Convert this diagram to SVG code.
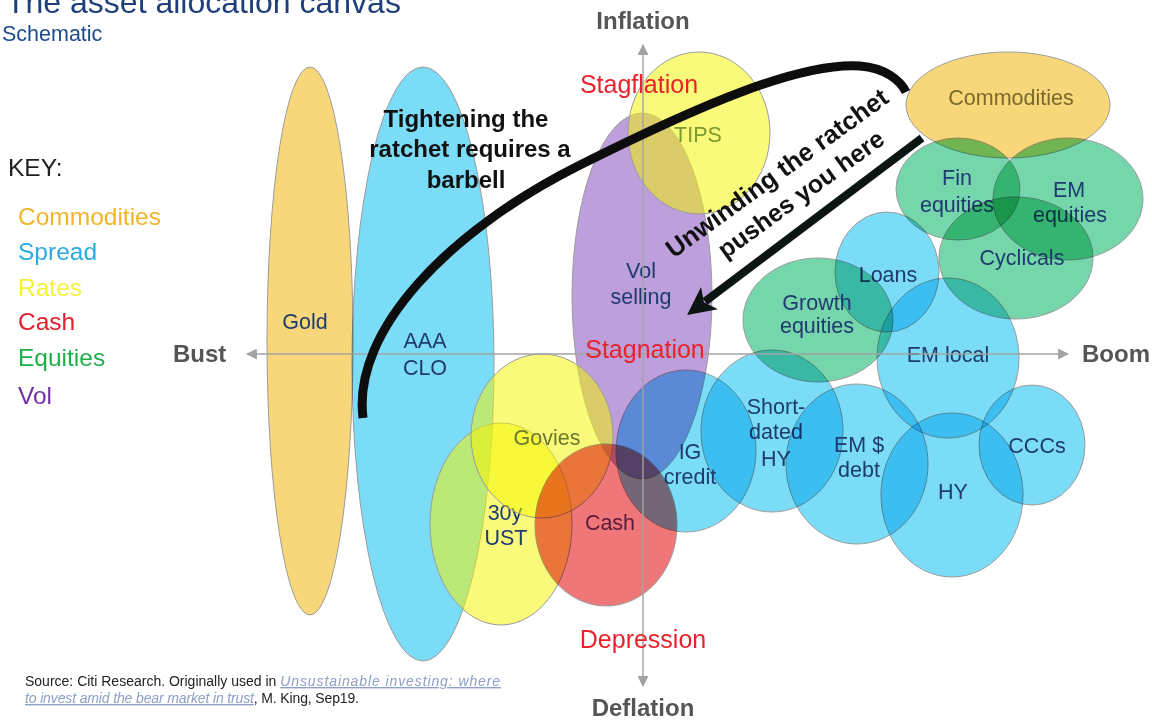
<svg xmlns="http://www.w3.org/2000/svg" width="1152" height="722" viewBox="0 0 1152 722">
<style>
text{font-family:"Liberation Sans",Arial,sans-serif}
.sh{mix-blend-mode:multiply;stroke:#9b9b9b;stroke-width:1}
.shy{fill:#f5f500;fill-opacity:0.52;stroke:#9b9b9b;stroke-width:1}
.gold{fill:#f8d77b}
.blue{fill:#7bdcf8}
.red{fill:#ef777a}
.pur{fill:#bc9fdb}
.grn{fill:#74d6aa}
.lb{font-size:21.5px;fill:#1f3a6e;text-anchor:middle}
.ax{font-size:24px;font-weight:bold;fill:#555}
.reg{font-size:25px;fill:#e8232b;text-anchor:middle}
.key{font-size:24.5px}
.ann{font-size:24px;font-weight:bold;fill:#111;text-anchor:middle}
.axis{stroke:#a3a3a3;stroke-width:1.4;fill:none}
.src{font-size:14px;fill:#222}
.lnk{font-style:italic;fill:#8ea0c6;text-decoration:underline}
</style>
<defs>
<marker id="axh" viewBox="0 0 10 10" refX="9" refY="5" markerWidth="11" markerHeight="11" markerUnits="userSpaceOnUse" orient="auto">
<path d="M0,0 L10,5 L0,10 z" fill="#a3a3a3"/>
</marker>
<marker id="bigh" viewBox="0 0 10 10" refX="2" refY="5" markerWidth="28" markerHeight="28" markerUnits="userSpaceOnUse" orient="auto">
<path d="M0,0 L10,5 L0,10 L2.5,5 z" fill="#0d1414"/>
</marker>
</defs>

<!-- title & key -->
<text x="6" y="13" font-size="32" fill="#1e3f7a">The asset allocation canvas</text>
<text x="2" y="41" font-size="21.5" fill="#1e4a8a">Schematic</text>
<g id="key" class="key">
<text x="8" y="176" fill="#222">KEY:</text>
<text x="18" y="225" fill="#f0b429">Commodities</text>
<text x="18" y="260" fill="#29abe2">Spread</text>
<text x="18" y="296" fill="#f2f23a">Rates</text>
<text x="18" y="330" fill="#e0202a">Cash</text>
<text x="18" y="366" fill="#1fb04a">Equities</text>
<text x="18" y="404" fill="#7030a0">Vol</text>
</g>

<!-- nodes -->
<g id="gold"><ellipse class="sh gold" cx="310" cy="341" rx="43" ry="274"/><text class="lb" x="305" y="329">Gold</text></g>
<g id="aaa-clo"><ellipse class="sh blue" cx="423" cy="364" rx="71" ry="297"/><text class="lb" x="425" y="348">AAA</text><text class="lb" x="425" y="375">CLO</text></g>
<g id="vol-selling"><ellipse class="sh pur" cx="642" cy="296" rx="70" ry="183"/><text class="lb" x="641" y="278">Vol</text><text class="lb" x="641" y="304">selling</text></g>
<g id="tips"><ellipse class="shy" cx="699" cy="133" rx="71" ry="81"/><text class="lb" x="698" y="142" style="fill:#7a9a30">TIPS</text></g>
<g id="commodities"><ellipse class="sh gold" cx="1008" cy="105" rx="102" ry="53"/><text class="lb" x="1011" y="105" style="fill:#7a6a2a">Commodities</text></g>
<g id="fin-equities"><ellipse class="sh grn" cx="958" cy="189" rx="62" ry="51"/><text class="lb" x="957" y="185">Fin</text><text class="lb" x="957" y="212">equities</text></g>
<g id="em-equities"><ellipse class="sh grn" cx="1068" cy="199" rx="75" ry="61"/><text class="lb" x="1069" y="197">EM</text><text class="lb" x="1070" y="222">equities</text></g>
<g id="cyclicals"><ellipse class="sh grn" cx="1016" cy="258" rx="77" ry="61"/><text class="lb" x="1022" y="265">Cyclicals</text></g>
<g id="loans"><ellipse class="sh blue" cx="887" cy="272" rx="52" ry="60"/><text class="lb" x="888" y="282">Loans</text></g>
<g id="growth-equities"><ellipse class="sh grn" cx="818" cy="320" rx="75" ry="62"/><text class="lb" x="817" y="310">Growth</text><text class="lb" x="817" y="333">equities</text></g>
<g id="em-local"><ellipse class="sh blue" cx="948" cy="358" rx="71" ry="80"/><text class="lb" x="948" y="362">EM local</text></g>
<g id="short-dated-hy"><ellipse class="sh blue" cx="772" cy="431" rx="71" ry="81"/><text class="lb" x="776" y="414">Short-</text><text class="lb" x="776" y="439">dated</text><text class="lb" x="776" y="466">HY</text></g>
<g id="ig-credit"><ellipse class="sh blue" cx="686" cy="451" rx="70" ry="81"/><text class="lb" x="690" y="459">IG</text><text class="lb" x="690" y="484">credit</text></g>
<g id="em-debt"><ellipse class="sh blue" cx="857" cy="464" rx="71" ry="80"/><text class="lb" x="859" y="452">EM $</text><text class="lb" x="859" y="477">debt</text></g>
<g id="hy"><ellipse class="sh blue" cx="952" cy="495" rx="71" ry="82"/><text class="lb" x="953" y="499">HY</text></g>
<g id="cccs"><ellipse class="sh blue" cx="1032" cy="445" rx="53" ry="60"/><text class="lb" x="1037" y="453">CCCs</text></g>
<g id="ust-30y"><ellipse class="shy" cx="501" cy="524" rx="71" ry="101"/><text class="lb" x="505" y="520">30y</text><text class="lb" x="506" y="545">UST</text></g>
<g id="govies"><ellipse class="shy" cx="542" cy="436" rx="71" ry="82"/><text class="lb" x="547" y="445" style="fill:#6a7a2a">Govies</text></g>
<g id="cash"><ellipse class="sh red" cx="606" cy="525" rx="71" ry="81"/><text class="lb" x="610" y="530" style="fill:#5a1a3a">Cash</text></g>

<!-- axes -->
<g id="axes">
<line class="axis" x1="643" y1="354" x2="643" y2="45" marker-end="url(#axh)"/>
<line class="axis" x1="643" y1="354" x2="643" y2="686" marker-end="url(#axh)"/>
<line class="axis" x1="643" y1="354" x2="247" y2="354" marker-end="url(#axh)"/>
<line class="axis" x1="643" y1="354" x2="1068" y2="354" marker-end="url(#axh)"/>
<text class="ax" x="643" y="29" text-anchor="middle">Inflation</text>
<text class="ax" x="643" y="716" text-anchor="middle">Deflation</text>
<text class="ax" x="173" y="362">Bust</text>
<text class="ax" x="1082" y="362">Boom</text>
<text class="reg" x="639" y="93">Stagflation</text>
<text class="reg" x="645" y="358">Stagnation</text>
<text class="reg" x="643" y="648">Depression</text>
</g>

<!-- connectors -->
<g id="connectors" fill="none">
<path d="M363,418 C352,330 450,230 580,165 C700,105 800,62 860,66 C885,68 900,80 906,92" stroke="#0d0d0d" stroke-width="9"/>
<line x1="922" y1="138" x2="705" y2="301.5" stroke="#0d1414" stroke-width="8" marker-end="url(#bigh)"/>
</g>

<!-- annotations -->
<g id="annotations">
<text class="ann" x="466" y="127">Tightening the</text>
<text class="ann" x="470" y="157">ratchet requires a</text>
<text class="ann" x="466" y="188">barbell</text>
<g transform="translate(782,180) rotate(-36)">
<text class="ann" x="0" y="0" style="font-size:25.5px">Unwinding the ratchet</text>
<text class="ann" x="7" y="31" style="font-size:25px">pushes you here</text>
</g>
</g>

<!-- source -->
<text class="src" x="25" y="686">Source: Citi Research. Originally used in <tspan class="lnk" letter-spacing="0.9">Unsustainable investing: where</tspan></text>
<text class="src" x="25" y="703" textLength="334" lengthAdjust="spacing"><tspan class="lnk">to invest amid the bear market in trust</tspan>, M. King, Sep19.</text>
</svg>
